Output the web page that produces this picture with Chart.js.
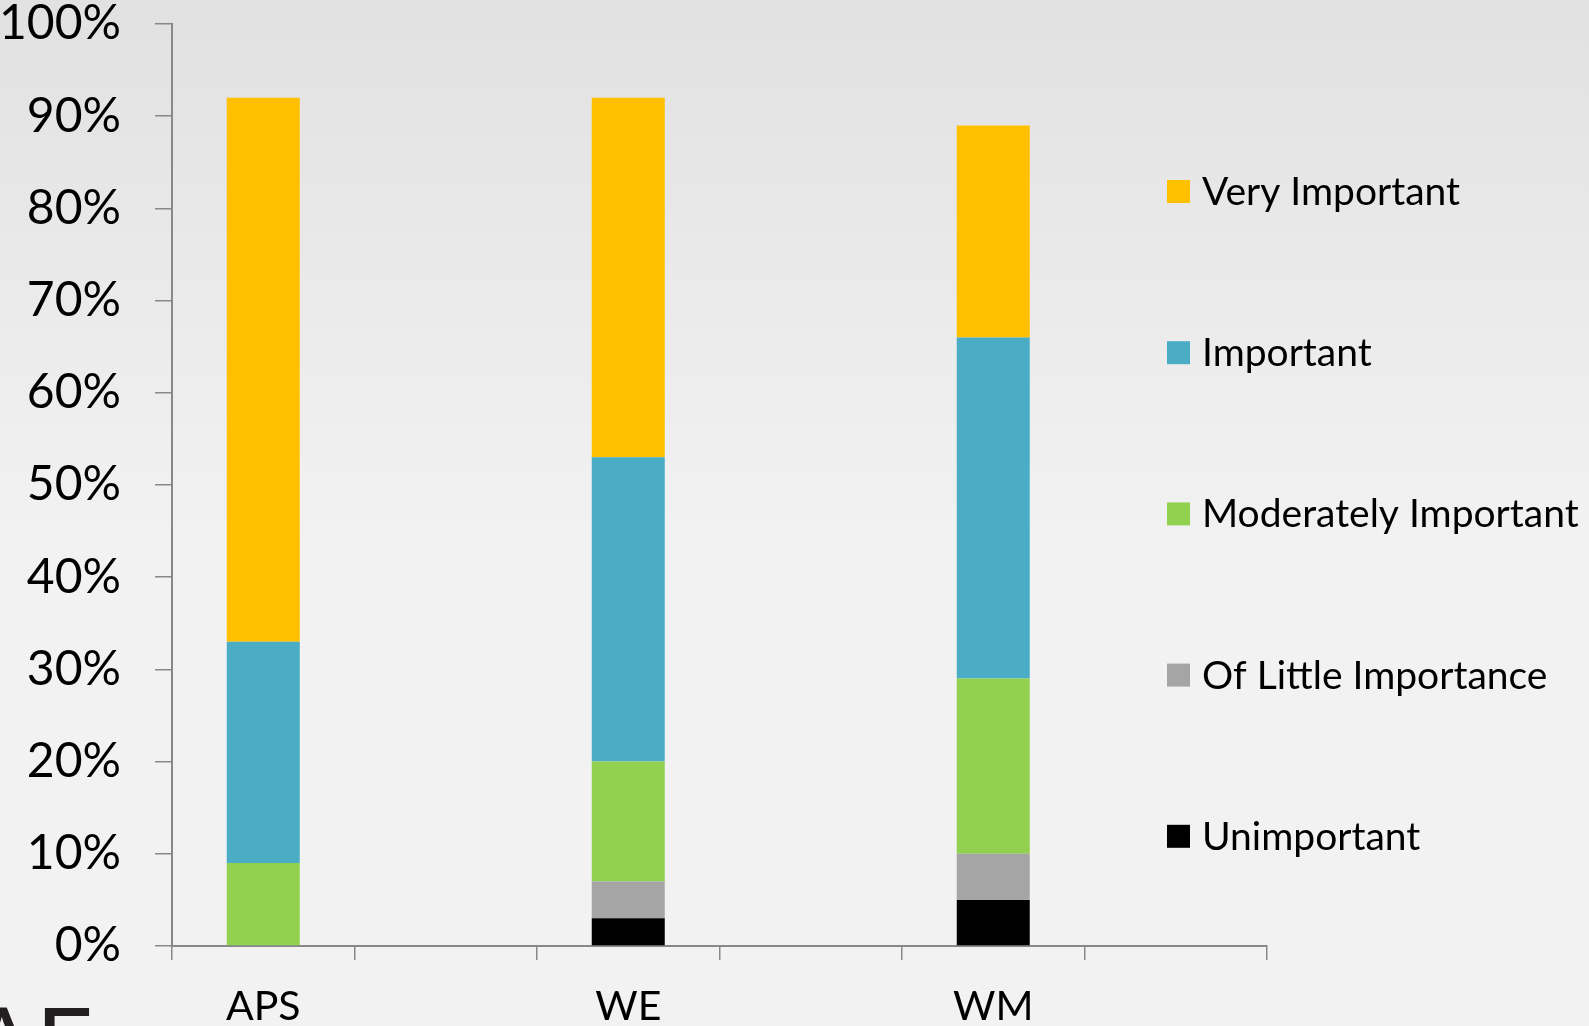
<!DOCTYPE html>
<html>
<head>
<meta charset="utf-8">
<script src="https://cdn.jsdelivr.net/npm/chart.js@4.4.1/dist/chart.umd.min.js"></script>
<style>
  html, body { margin: 0; padding: 0; }
  body {
    width: 1589px; height: 1026px; overflow: hidden; position: relative;
    background: linear-gradient(#e1e1e1 0px, #f2f2f2 540px, #f2f2f2 1026px);
  }
  #wrap { position: absolute; left: 0; top: 0; width: 1589px; height: 1026px; }
  #title {
    position: absolute; left: -32px; top: 991px;
    font-family: Lato, sans-serif; font-size: 100px; line-height: 1;
    color: #231f20; white-space: nowrap;
  }
</style>
</head>
<body>
<div id="wrap"><canvas id="chart"></canvas></div>
<div id="title">AE</div>
<script>
// categories (blank slots keep the wide spacing between the bars)
const categories = ['APS', '', 'WE', '', 'WM', ''];

// percentages per group, bottom of the stack first
const unimportant   = [0, null, 3, null, 5, null];
const littleImport  = [0, null, 4, null, 5, null];
const moderate      = [9, null, 13, null, 19, null];
const important     = [24, null, 33, null, 37, null];
const veryImportant = [59, null, 39, null, 23, null];

const yTicks = [0, 10, 20, 30, 40, 50, 60, 70, 80, 90, 100];

const axisGray = '#888888';

// legend drawn on top of the plot, Very Important first
const sideLegend = {
    id: 'sideLegend',
    afterDraw(chart, args, opts) {
        const ctx = chart.ctx;
        ctx.save();
        ctx.font = opts.font;
        ctx.textBaseline = 'middle';
        const sets = chart.data.datasets.slice().reverse();
        sets.forEach((ds, i) => {
            const y = opts.top + i * opts.step;
            ctx.fillStyle = ds.backgroundColor;
            ctx.fillRect(opts.x, y - opts.box / 2, opts.box, opts.box);
            ctx.fillStyle = '#000';
            ctx.fillText(ds.label, opts.x + opts.box + opts.gap, y + opts.textShift);
        });
        ctx.restore();
    }
};

const ctx = document.getElementById('chart').getContext('2d');
const chart = new Chart(ctx, {
    type: 'bar',
    data: {
        labels: categories,
        datasets: [
            { label: 'Unimportant', data: unimportant, backgroundColor: '#000000' },
            { label: 'Of Little Importance', data: littleImport, backgroundColor: '#a5a5a5' },
            { label: 'Moderately Important', data: moderate, backgroundColor: '#92d050' },
            { label: 'Important', data: important, backgroundColor: '#4bacc6' },
            { label: 'Very Important', data: veryImportant, backgroundColor: '#ffc000' }
        ]
    },
    options: {
        responsive: true,
        maintainAspectRatio: false,
        animation: false,
        datasets: {
            bar: { barPercentage: 0.4, categoryPercentage: 1.0 }
        },
        layout: {
            padding: { top: 24, right: 322, bottom: 0, left: 0 }
        },
        plugins: {
            legend: { display: false },
            tooltip: { enabled: false },
            sideLegend: {
                x: 1167, top: 191.5, step: 161.2, box: 23, gap: 12, textShift: 1,
                font: '39px Lato, sans-serif'
            }
        },
        scales: {
            x: {
                stacked: true,
                grid: {
                    offset: true,
                    drawOnChartArea: false,
                    drawTicks: true,
                    tickLength: 14,
                    color: axisGray,
                    lineWidth: 1.5
                },
                border: { color: axisGray, width: 2 },
                ticks: {
                    autoSkip: false,
                    maxRotation: 0,
                    padding: 22,
                    color: '#000',
                    font: { family: 'Lato, sans-serif', size: 41 }
                },
                afterFit(scale) { scale.height = 80; }
            },
            y: {
                stacked: true,
                min: 0,
                max: 100,
                grid: {
                    drawOnChartArea: false,
                    drawTicks: true,
                    tickLength: 17,
                    color: axisGray,
                    lineWidth: 1.5
                },
                border: { color: axisGray, width: 2 },
                afterBuildTicks(scale) {
                    scale.ticks = yTicks.map(v => ({ value: v }));
                },
                ticks: {
                    padding: 34,
                    color: '#000',
                    font: { family: 'Lato, sans-serif', size: 48, lineHeight: 1 },
                    callback: v => v + '%'
                },
                afterFit(scale) {
                    scale.width = 172;
                    // tick padding should not push the plot down
                    scale.paddingTop = 0;
                    scale.paddingBottom = 0;
                }
            }
        }
    },
    plugins: [sideLegend]
});
</script>
</body>
</html>
